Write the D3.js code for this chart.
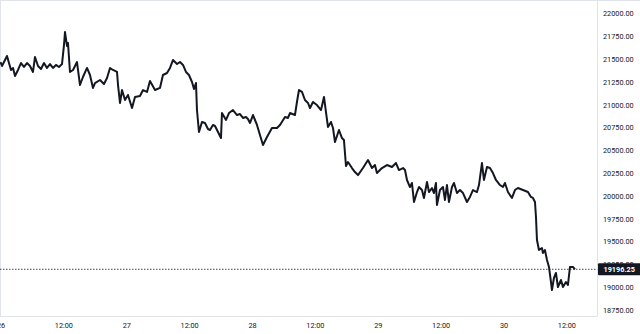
<!DOCTYPE html>
<html>
<head>
<meta charset="utf-8">
<script src="https://cdn.jsdelivr.net/npm/d3@7"></script>
<style>
  html, body { margin: 0; padding: 0; background: #fff; }
  svg { display: block; font-family: Roboto, "Noto Sans", sans-serif; }
</style>
</head>
<body>
<svg id="chart" width="640" height="334"></svg>
<script>
// BTC price, 26-30 Jun 2022; hours counted from 26 Jun 00:00
const startTime = new Date(2022, 5, 26, 0, 0);
const hours = [
  0, 0.29, 0.86, 1.24, 1.62, 2.0, 2.39, 2.77, 3.34, 3.91, 4.48, 5.06, 5.63, 6.2, 6.58, 7.16, 7.73, 8.3, 8.87, 9.45,
  10.02, 10.59, 11.16, 11.74, 12.12, 12.31, 12.69, 12.88, 13.26, 13.84, 14.6, 15.17, 15.74, 16.51, 17.08, 17.65, 18.03, 18.99, 19.75, 20.33,
  20.9, 21.47, 22.24, 22.43, 22.81, 23.19, 23.76, 24.33, 25.1, 25.67, 26.62, 27.2, 27.96, 28.53, 29.49, 30.44, 31.01, 31.78, 32.35, 32.92,
  33.69, 34.26, 34.83, 35.4, 35.97, 36.55, 36.93, 37.31, 37.5, 37.88, 38.45, 39.03, 39.6, 39.98, 40.55, 40.94, 41.51, 42.08, 42.27, 43.04,
  43.61, 44.37, 45.14, 45.71, 46.28, 46.85, 47.23, 47.62, 48.19, 48.95, 49.52, 50.1, 50.86, 51.81, 52.77, 53.34, 54.3, 54.87, 55.25, 56.2,
  56.58, 56.97, 57.54, 58.11, 58.69, 59.07, 59.64, 60.4, 61.17, 61.74, 62.12, 62.5, 63.08, 63.46, 63.84, 64.6, 65.17, 65.55, 65.94, 66.32,
  67.08, 67.65, 68.23, 69.18, 70.14, 70.9, 71.47, 71.85, 72.81, 73.76, 74.72, 75.48, 76.05, 76.82, 77.2, 77.58, 78.15, 78.53, 78.92, 79.49,
  79.87, 80.44, 80.82, 81.4, 81.78, 82.35, 82.73, 83.11, 83.3, 83.88, 84.45, 84.83, 85.21, 85.59, 86.17, 86.55, 87.12, 87.69, 88.27, 89.03,
  89.6, 90.17, 90.94, 91.32, 91.89, 92.27, 92.85, 93.42, 93.99, 94.56, 95.33, 95.9, 96.28, 96.85, 97.62, 98.19, 98.76, 99.72, 100.67, 101.24,
  101.62, 102.01, 102.2, 102.39, 102.77, 103.34, 103.53, 103.91, 104.3, 104.68, 105.06, 105.25, 105.63, 106.01, 106.39, 106.97, 107.35, 107.92, 108.3, 108.69,
  109.26, 109.64
];
const prices = [
  21468, 21425, 21490, 21534, 21457, 21381, 21403, 21315, 21381, 21457, 21414, 21457, 21425, 21359, 21523, 21425, 21392, 21457, 21403, 21446,
  21403, 21436, 21414, 21446, 21655, 21797, 21644, 21677, 21359, 21381, 21468, 21216, 21304, 21403, 21326, 21184, 21238, 21271, 21227, 21293,
  21403, 21381, 21359, 21216, 21019, 21161, 21052, 21107, 20964, 21085, 21096, 21161, 21140, 21260, 21161, 21184, 21326, 21348, 21403, 21490,
  21446, 21468, 21436, 21359, 21326, 21249, 21172, 21238, 20942, 20701, 20811, 20800, 20734, 20723, 20778, 20767, 20701, 20635, 20909, 20833,
  20909, 20942, 20887, 20898, 20855, 20866, 20844, 20800, 20887, 20778, 20668, 20558, 20646, 20745, 20745, 20778, 20866, 20855, 20909, 20887,
  21030, 21161, 21140, 21052, 21019, 20964, 21030, 20997, 20942, 21085, 20920, 20756, 20811, 20745, 20591, 20723, 20635, 20613, 20328, 20372,
  20306, 20262, 20229, 20306, 20394, 20306, 20339, 20251, 20306, 20339, 20317, 20361, 20284, 20306, 20284, 20175, 20098, 20142, 19934, 20043,
  20098, 20065, 19978, 20153, 20043, 20087, 20032, 20142, 19901, 20065, 20098, 19956, 20120, 19934, 20098, 20142, 20032, 20065, 20032, 19934,
  19989, 20065, 20043, 20120, 20361, 20175, 20317, 20306, 20251, 20175, 20120, 20098, 20142, 20043, 19978, 20065, 20087, 20065, 20043, 19989,
  19978, 19934, 19770, 19517, 19408, 19430, 19375, 19408, 19298, 19222, 19057, 18969, 19101, 19156, 19002, 19079, 19002, 19057, 19024, 19222,
  19222, 19196.25
];
const priceTicks = [18750, 19000, 19250, 19500, 19750, 20000, 20250, 20500, 20750, 21000, 21250, 21500, 21750, 22000];
const timeTickHours = [0, 12, 24, 36, 48, 60, 72, 84, 96, 108];
const lastPrice = 19196.25;

const W = 640, H = 334;
const plotRight = 597.5, plotBottom = 316.5;
const ink = "#131722", border = "#e0e3eb";

const hourMs = 3600 * 1000;
const data = hours.map((h, i) => ({ t: new Date(+startTime + h * hourMs), v: prices[i] }));

const svg = d3.select("#chart");

const x = d3.scaleTime()
  .domain([startTime, new Date(+startTime + 114 * hourMs)])
  .range([0.5, 597.8]);

const y = d3.scaleLinear()
  .domain([18750, 22000])
  .range([310, 13.5]);

svg.append("rect").attr("width", W).attr("height", H).attr("fill", "#fff");

svg.append("defs").append("clipPath").attr("id", "plot")
  .append("rect").attr("x", 0).attr("y", 0).attr("width", plotRight).attr("height", plotBottom);

// frame lines
svg.append("line").attr("x1", 0).attr("x2", W).attr("y1", 0.5).attr("y2", 0.5).attr("stroke", border);
svg.append("line").attr("x1", 0.5).attr("x2", 0.5).attr("y1", 0).attr("y2", plotBottom).attr("stroke", border);
svg.append("line").attr("x1", plotRight).attr("x2", plotRight).attr("y1", 0).attr("y2", plotBottom).attr("stroke", border);
svg.append("line").attr("x1", 0).attr("x2", plotRight).attr("y1", plotBottom).attr("y2", plotBottom).attr("stroke", border);

// right price axis
const yAxis = svg.append("g")
  .attr("transform", `translate(${plotRight},0)`)
  .call(d3.axisRight(y).tickValues(priceTicks).tickFormat(d3.format(".2f")).tickSize(0).tickPadding(5.5));
yAxis.select(".domain").remove();
yAxis.selectAll("text").attr("fill", ink).attr("font-size", 7.3).attr("font-family", "Roboto, sans-serif");

// bottom time axis
const xAxis = svg.append("g")
  .attr("transform", `translate(0,${plotBottom})`)
  .call(d3.axisBottom(x)
    .tickValues(timeTickHours.map(h => new Date(+startTime + h * hourMs)))
    .tickFormat(d => d.getHours() === 0 ? d3.timeFormat("%-d")(d) : d3.timeFormat("%H:%M")(d))
    .tickSize(0).tickPadding(6));
xAxis.select(".domain").remove();
xAxis.selectAll("text").attr("fill", ink).attr("font-size", 7.3).attr("font-family", "Roboto, sans-serif");

const plot = svg.append("g").attr("clip-path", "url(#plot)");

// last price dotted line
plot.append("line")
  .attr("x1", 0).attr("x2", plotRight)
  .attr("y1", y(lastPrice)).attr("y2", y(lastPrice))
  .attr("stroke", ink).attr("stroke-width", 0.8).attr("stroke-dasharray", "1.5,1.5");

const line = d3.line().x(d => x(d.t)).y(d => y(d.v));
plot.append("path")
  .datum(data)
  .attr("d", line)
  .attr("fill", "none")
  .attr("stroke", ink)
  .attr("stroke-width", 2)
  .attr("stroke-linejoin", "round");

// last price tag
const tag = svg.append("g").attr("transform", `translate(${plotRight + 0.5},${y(lastPrice)})`);
tag.append("rect").attr("x", 0).attr("y", -6).attr("width", W - plotRight).attr("height", 12).attr("fill", ink).attr("rx", 1);
tag.append("text").attr("x", 5.5).attr("y", 0).attr("dy", "0.35em")
  .attr("fill", "#fff").attr("font-size", 7.3).attr("font-weight", "bold")
  .attr("font-family", "Roboto, sans-serif")
  .text(d3.format(".2f")(lastPrice));
</script>
</body>
</html>
